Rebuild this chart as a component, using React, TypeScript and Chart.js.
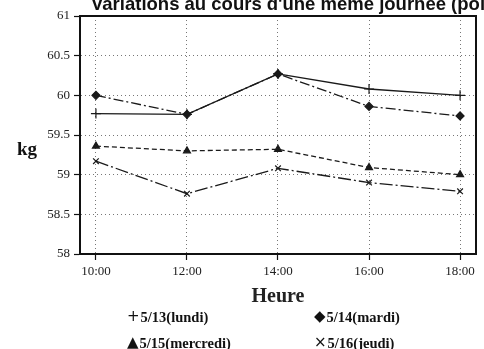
import React, { useEffect, useRef } from "react";
import { Chart, registerables } from "chart.js";

Chart.register(...registerables);

const hours = [10, 12, 14, 16, 18];
const xTickLabels = ["10:00", "12:00", "14:00", "16:00", "18:00"];
const lundi = [59.77, 59.76, 60.27, 60.08, 60.0];
const mardi = [60.0, 59.76, 60.27, 59.86, 59.74];
const mercredi = [59.36, 59.3, 59.32, 59.09, 59.0];
const jeudi = [59.17, 58.76, 59.08, 58.9, 58.79];
const seriesNames = ["5/13(lundi)", "5/14(mardi)", "5/15(mercredi)", "5/16(jeudi)"];
const legendSymbols = ["+", "\u25C6", "\u25B2", "\u00D7"];
const titleText = "Variations au cours d'une même journée (poids)";
const yTitle = "kg";
const xTitle = "Heure";

const SERIF = "'Liberation Serif', 'DejaVu Serif', serif";

const pts = (vals: number[]) => vals.map((v, i) => ({ x: hours[i], y: v }));

const extrasPlugin = {
  id: "extras",
  afterDraw(chart: any) {
    const { ctx, chartArea } = chart;
    ctx.save();
    // frame
    ctx.strokeStyle = "#111";
    ctx.lineWidth = 2;
    ctx.strokeRect(chartArea.left, chartArea.top, chartArea.right - chartArea.left, chartArea.bottom - chartArea.top);
    // title
    ctx.fillStyle = "#111";
    ctx.font = "bold 18.5px 'Liberation Sans', Arial, sans-serif";
    ctx.textAlign = "left";
    ctx.textBaseline = "alphabetic";
    ctx.fillText(titleText, 91, 10);
    // y title
    ctx.font = "bold 19px " + SERIF;
    ctx.textAlign = "center";
    ctx.textBaseline = "middle";
    ctx.fillText(yTitle, 27, 150);
    // legend
    const cols = [127, 314];
    const rows = [317, 343];
    ctx.textBaseline = "middle";
    ctx.textAlign = "left";
    seriesNames.forEach((name, i) => {
      const x = cols[i % 2];
      const y = rows[Math.floor(i / 2)];
      ctx.font = "15px 'DejaVu Sans', sans-serif";
      ctx.fillText(legendSymbols[i], x, y);
      const w = ctx.measureText(legendSymbols[i]).width;
      ctx.font = "bold 14.5px " + SERIF;
      ctx.fillText(name, x + w + 1, y + 1);
    });
    ctx.restore();
  },
};

export default function App() {
  const ref = useRef<HTMLCanvasElement>(null);
  useEffect(() => {
    document.body.style.margin = "0";
    const lineColor = "#1a1a1a";
    const common = {
      borderColor: lineColor,
      backgroundColor: lineColor,
      pointBorderColor: lineColor,
      pointBackgroundColor: lineColor,
      borderWidth: 1.3,
      pointBorderWidth: 1.2,
      fill: false,
      tension: 0,
    };
    const chart = new Chart(ref.current!, {
      type: "line",
      data: {
        datasets: [
          { ...common, label: seriesNames[0], data: pts(lundi), pointStyle: "cross", pointRadius: 5 },
          { ...common, label: seriesNames[1], data: pts(mardi), pointStyle: "rectRot", pointRadius: 4, borderDash: [10, 3, 2, 3] },
          { ...common, label: seriesNames[2], data: pts(mercredi), pointStyle: "triangle", pointRadius: 4, borderDash: [5, 3] },
          { ...common, label: seriesNames[3], data: pts(jeudi), pointStyle: "crossRot", pointRadius: 4, borderDash: [13, 3, 2, 3] },
        ],
      },
      options: {
        animation: false,
        responsive: false,
        maintainAspectRatio: false,
        layout: { padding: { top: 16, right: 8, left: 0, bottom: 0 } },
        plugins: { legend: { display: false }, tooltip: { enabled: false }, title: { display: false } },
        scales: {
          x: {
            type: "linear",
            min: 9.65,
            max: 18.35,
            afterBuildTicks: (s: any) => {
              s.ticks = hours.map((h) => ({ value: h }));
            },
            afterFit: (s: any) => {
              s.height = 95;
            },
            ticks: {
              autoSkip: false,
              maxRotation: 0,
              padding: 4,
              color: "#222",
              font: { family: SERIF, size: 13 },
              callback: (v: any) => {
                const i = hours.indexOf(Number(v));
                return i >= 0 ? xTickLabels[i] : "";
              },
            },
            grid: {
              color: "#777",
              lineWidth: 1,
              tickLength: 6,
              tickColor: "#111",
              tickWidth: 1.2,
              tickBorderDash: [],
              borderDash: [1, 3],
            } as any,
            border: { display: true, color: "#111", width: 2, dash: [1, 3] } as any,
            title: {
              display: true,
              text: xTitle,
              color: "#222",
              font: { family: SERIF, size: 20, weight: "bold" },
              padding: { top: 0, bottom: 40 },
            },
          },
          y: {
            min: 58,
            max: 61,
            afterFit: (s: any) => {
              s.width = 80;
            },
            ticks: {
              stepSize: 0.5,
              padding: 4,
              color: "#222",
              font: { family: SERIF, size: 13 },
              callback: (v: any) => String(Number(v)),
            },
            grid: {
              color: "#777",
              lineWidth: 1,
              tickLength: 6,
              tickColor: "#111",
              tickWidth: 1.2,
              tickBorderDash: [],
            } as any,
            border: { display: true, color: "#111", width: 2, dash: [1, 3] } as any,
          },
        },
      } as any,
      plugins: [extrasPlugin],
    });
    return () => chart.destroy();
  }, []);
  return (
    <div style={{ position: "absolute", left: 0, top: 0, width: 484, height: 349 }}>
      <canvas ref={ref} width={484} height={349} style={{ width: 484, height: 349, display: "block" }} />
    </div>
  );
}
